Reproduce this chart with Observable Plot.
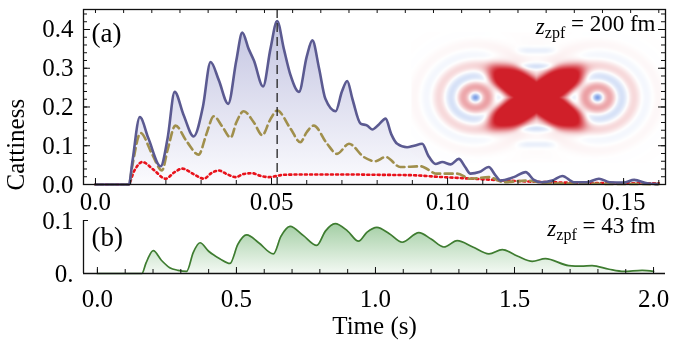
<!DOCTYPE html>
<html><head><meta charset="utf-8">
<script src="https://cdn.jsdelivr.net/npm/d3@7"></script>
<script src="https://cdn.jsdelivr.net/npm/@observablehq/plot@0.6"></script>
<style>
body{margin:0;background:#fff;}
#wrap{position:relative;width:683px;height:349px;overflow:hidden;font-family:"Liberation Serif",serif;color:#000;}
#wrap svg{position:absolute;left:0;overflow:visible;}
</style></head><body><div id="wrap"></div>
<script>
// ---------- data: panel (a), z_zpf = 200 fm ----------
const solidT = [0,0.0095,0.0105,0.0126,0.015,0.0185,0.0205,0.0225,0.025,0.0279,0.0305,0.0327,0.035,0.0377,0.04,0.0417,0.0435,0.045,0.0476,0.0497,0.0516,0.0535,0.0554,0.0578,0.06,0.0616,0.0635,0.0653,0.0682,0.07,0.0715,0.073,0.0753,0.0772,0.0786,0.0805,0.0824,0.084,0.0857,0.0885,0.0905,0.0928,0.0945,0.0966,0.0985,0.1009,0.1032,0.105,0.1065,0.109,0.1117,0.1135,0.115,0.1188,0.1222,0.1245,0.1265,0.1297,0.1326,0.1359,0.1395,0.143,0.146,0.150,0.153,0.1567,0.1596];
const solidV = [0,0,0.06,0.174,0.12,0.047,0.12,0.239,0.18,0.124,0.2,0.316,0.27,0.208,0.32,0.392,0.35,0.32,0.253,0.35,0.422,0.35,0.282,0.239,0.33,0.372,0.3,0.221,0.189,0.24,0.267,0.22,0.157,0.152,0.142,0.155,0.17,0.13,0.105,0.096,0.1,0.105,0.075,0.053,0.058,0.052,0.066,0.045,0.028,0.032,0.045,0.025,0.010,0.019,0.032,0.012,0.006,0.010,0.022,0.006,0.006,0.015,0.006,0.005,0.012,0.003,0.001];
const dashT = [0,0.0095,0.0105,0.0128,0.016,0.0189,0.0205,0.0227,0.026,0.0293,0.0315,0.0336,0.036,0.0384,0.04,0.0421,0.045,0.0474,0.0495,0.0516,0.0554,0.0582,0.06,0.062,0.0658,0.0686,0.072,0.0762,0.0795,0.0824,0.0866,0.0923,0.097,0.1027,0.1065,0.1117,0.116,0.1226,0.1283,0.14,0.16];
const dashV = [0,0,0.05,0.133,0.08,0.036,0.09,0.152,0.11,0.077,0.13,0.176,0.15,0.121,0.16,0.189,0.16,0.127,0.165,0.191,0.144,0.109,0.135,0.152,0.105,0.079,0.105,0.071,0.06,0.071,0.045,0.047,0.028,0.028,0.015,0.019,0.006,0.01,0.003,0.002,0.001];
const dotT = [0,0.0093,0.011,0.0133,0.0165,0.0199,0.0225,0.0246,0.028,0.0308,0.033,0.035,0.0375,0.0398,0.042,0.0445,0.047,0.0492,0.0535,0.06,0.07,0.08,0.09,0.097,0.105,0.115,0.125,0.14,0.16];
const dotV = [0,0,0.035,0.058,0.038,0.015,0.032,0.041,0.026,0.015,0.03,0.036,0.026,0.019,0.027,0.029,0.022,0.019,0.025,0.026,0.026,0.025,0.024,0.02,0.016,0.011,0.007,0.004,0.003];
const markerT = [0.0516];
// ---------- data: panel (b), z_zpf = 43 fm ----------
const greenT = [0,0.16,0.175,0.201,0.23,0.26,0.29,0.321,0.345,0.369,0.40,0.44,0.477,0.505,0.537,0.58,0.633,0.66,0.693,0.74,0.789,0.82,0.855,0.90,0.939,0.97,1.005,1.05,1.096,1.156,1.2,1.246,1.294,1.35,1.408,1.456,1.51,1.564,1.611,1.695,1.74,1.779,1.84,1.893,1.959,2.0];
const greenV = [0,0,0.02,0.043,0.025,0.011,0.006,0.004,0.04,0.058,0.042,0.028,0.019,0.055,0.073,0.058,0.037,0.07,0.089,0.072,0.053,0.08,0.094,0.08,0.061,0.078,0.087,0.075,0.059,0.077,0.065,0.05,0.062,0.05,0.037,0.045,0.033,0.023,0.028,0.015,0.014,0.015,0.008,0.004,0.006,0.004];
// ---------- tick labels & texts ----------
const aTickX = [0, 0.05, 0.10, 0.15];
const aTickY = [0, 0.1, 0.2, 0.3, 0.4];
const bTickX = [0, 0.5, 1.0, 1.5, 2.0];
const bTickY = [0, 0.1];
const yLabel = "Cattiness";
const xLabel = "Time (s)";
const panelA = "(a)", panelB = "(b)";
const annA = ["z", "zpf", " = 200 fm"];
const annB = ["z", "zpf", " = 43 fm"];

const zip = (T, V) => T.map((t, i) => ({t, v: V[i]}));
const solid = zip(solidT, solidV), dashed = zip(dashT, dashV), dotted = zip(dotT, dotV), green = zip(greenT, greenV);

const NS = "http://www.w3.org/2000/svg";
function gradient(id, stops) {
  return () => {
    const defs = document.createElementNS(NS, "defs");
    const lg = document.createElementNS(NS, "linearGradient");
    lg.setAttribute("id", id);
    lg.setAttribute("x1", "0"); lg.setAttribute("y1", "0"); lg.setAttribute("x2", "0"); lg.setAttribute("y2", "1");
    for (const [o, c] of stops) {
      const s = document.createElementNS(NS, "stop");
      s.setAttribute("offset", o); s.setAttribute("stop-color", c);
      lg.appendChild(s);
    }
    defs.appendChild(lg);
    return defs;
  };
}
function subscriptify(svg, parts, subSize) {
  const full = parts.join("");
  svg.querySelectorAll("text").forEach(t => {
    if (t.textContent === full) {
      t.textContent = "";
      const a = document.createElementNS(NS, "tspan"); a.textContent = parts[0]; a.setAttribute("font-style", "italic");
      const b = document.createElementNS(NS, "tspan"); b.textContent = parts[1]; b.setAttribute("font-size", subSize); b.setAttribute("dy", "0.3em");
      const c = document.createElementNS(NS, "tspan"); c.textContent = parts[2]; c.setAttribute("dy", "-0.3em");
      t.append(a, b, c);
    }
  });
}

const W = 683, ML = 83, MR = 18;
const PW = W - ML - MR;
const FONT = "Liberation Serif";
const ink = "#111";
const CURVE = "monotone-x";

// ---------- panel (a) ----------
const aH = 212, aMT = 9, aMB = 28, aPH = aH - aMT - aMB;
const aXdom = [-0.0034, 0.1619];
const aMinorX = d3.range(0, 0.1605, 0.01);
const aTopX = d3.range(0, 0.1605, 0.008);
const aMinorY = d3.range(0, 0.4501, 0.02);

const plotA = Plot.plot({
  width: W, height: aH, marginLeft: ML, marginRight: MR, marginTop: aMT, marginBottom: aMB,
  x: {domain: aXdom, label: null},
  y: {domain: [0, 0.4516], label: null},
  style: {fontFamily: FONT, fontSize: "25px", background: "transparent", overflow: "visible"},
  marks: [
    gradient("gradA", [["0", "#c3c4e1"], ["1", "#fbfbfe"]]),
    Plot.areaY(solid, {x: "t", y: "v", fill: "url(#gradA)", curve: CURVE}),
    Plot.lineY(dotted, {x: "t", y: "v", stroke: "#e8121b", strokeWidth: 2.6, strokeDasharray: "2,3.2", curve: CURVE}),
    Plot.lineY(dashed, {x: "t", y: "v", stroke: "#a08f4c", strokeWidth: 2.6, strokeDasharray: "8,4.5", curve: CURVE}),
    Plot.lineY(solid, {x: "t", y: "v", stroke: "#5b5a91", strokeWidth: 2.6, curve: CURVE}),
    Plot.ruleX(markerT, {x: d => d, stroke: "#222", strokeWidth: 1.3, strokeDasharray: "9,5"}),
    // inward ticks
    Plot.ruleX(aMinorX, {x: d => d, stroke: ink, insetTop: aPH - 4}),
    Plot.ruleX(aTickX, {x: d => d, stroke: ink, insetTop: aPH - 6}),
    Plot.ruleX(aTopX, {x: d => d, stroke: ink, insetBottom: aPH - 4}),
    Plot.ruleY(aMinorY, {y: d => d, stroke: ink, insetRight: PW - 4}),
    Plot.ruleY(aTickY, {y: d => d, stroke: ink, insetRight: PW - 7}),
    Plot.ruleY(aMinorY, {y: d => d, stroke: ink, insetLeft: PW - 4}),
    Plot.ruleY(aTickY, {y: d => d, stroke: ink, insetLeft: PW - 7}),
    Plot.frame({stroke: ink, strokeWidth: 1.3}),
    Plot.axisX({ticks: aTickX, tickFormat: d => d === 0 ? "0.0" : d.toFixed(2), tickSize: 0, tickPadding: 8, label: null, fontSize: 25}),
    Plot.axisY({ticks: aTickY, tickFormat: d3.format(".1f"), tickSize: 0, tickPadding: 10, label: null, fontSize: 25}),
    Plot.text([panelA], {text: d => d, frameAnchor: "top-left", textAnchor: "start", lineAnchor: "middle", dx: 8, dy: 24, fontSize: 27}),
    Plot.text([annA.join("")], {text: d => d, frameAnchor: "top-right", textAnchor: "end", lineAnchor: "bottom", dx: -10, dy: 24, fontSize: 23}),
    Plot.text([yLabel], {text: d => d, frameAnchor: "bottom-left", rotate: -90, dx: -60, dy: 6, fontSize: 25})
  ]
});
plotA.style.top = "0px";
subscriptify(plotA, annA, "16px");

// ---------- panel (b) ----------
const bTop = 200, bH = 149, bMT = 20, bMB = 76, bPH = bH - bMT - bMB;
const bXdom = [-0.05, 2.043];
const bMinorX = d3.range(0, 2.0001, 0.1);

const plotB = Plot.plot({
  width: W, height: bH, marginLeft: ML, marginRight: MR, marginTop: bMT, marginBottom: bMB,
  x: {domain: bXdom, label: null},
  y: {domain: [0, 0.1], label: null},
  style: {fontFamily: FONT, fontSize: "25px", background: "transparent", overflow: "visible"},
  marks: [
    gradient("gradB", [["0", "#a3cea4"], ["1", "#f3f9f3"]]),
    Plot.areaY(green, {x: "t", y: "v", fill: "url(#gradB)", curve: CURVE}),
    Plot.lineY(green, {x: "t", y: "v", stroke: "#3e7c30", strokeWidth: 1.7, curve: CURVE}),
    Plot.ruleX(bMinorX, {x: d => d, stroke: ink, insetTop: bPH - 4}),
    Plot.ruleX(bTickX, {x: d => d, stroke: ink, insetTop: bPH - 6}),
    Plot.ruleY(bTickY, {y: d => d, stroke: ink, insetRight: PW - 5}),
    Plot.ruleY([0], {stroke: ink, strokeWidth: 1.3}),
    Plot.ruleX([bXdom[0]], {y1: 0, y2: 0.1, stroke: ink, strokeWidth: 1.3}),
    Plot.axisX({ticks: bTickX, tickFormat: d3.format(".1f"), tickSize: 0, tickPadding: 16, label: null, fontSize: 25}),
    Plot.axisY({ticks: bTickY, tickFormat: d => d === 0 ? "0." : "0.1", tickSize: 0, tickPadding: 10, label: null, fontSize: 25}),
    Plot.text([panelB], {text: d => d, frameAnchor: "top-left", textAnchor: "start", lineAnchor: "middle", dx: 8, dy: 17, fontSize: 27}),
    Plot.text([annB.join("")], {text: d => d, frameAnchor: "top-right", textAnchor: "end", lineAnchor: "bottom", dx: -10, dy: 15, fontSize: 23}),
    Plot.text([xLabel], {text: d => d, frameAnchor: "bottom", dy: 60, fontSize: 25})
  ]
});
plotB.style.top = bTop + "px";
subscriptify(plotB, annB, "16px");

// ---------- Wigner-function inset (image) ----------
const sig = z => 1 / (1 + Math.exp(-z));
function wigner(dx, dy) {
  const adx = Math.abs(dx), ady = Math.abs(dy);
  const b1 = sig((18 - Math.abs(dy - 0.7 * dx)) / 2.5), b2 = sig((18 - Math.abs(dy + 0.7 * dx)) / 2.5);
  const X = Math.max(b1, b2) * sig((47 - adx) / 3.5) * sig((32 - ady) / 3);
  let L = 0;
  for (const s of [-1, 1]) {
    const r = Math.hypot(dx - s * 61, dy * 1.15);
    L += -Math.cos(2 * Math.PI * r / 25) * (0.3 + 0.3 * Math.exp(-((r / 6) ** 2))) * Math.exp(-((r / 38) ** 2));
  }
  const C = -0.22 * Math.exp(-((dx / 18) ** 4)) * (Math.exp(-(((ady - 31) / 3.5) ** 2)) + 0.5 * Math.exp(-(((ady - 47) / 3.5) ** 2)));
  const H = 0.1 * Math.exp(-((dx / 75) ** 2) - ((dy / 38) ** 2));
  return X + (1 - X) * (L + C + H);
}
const plotC = Plot.plot({
  width: 250, height: 130, margin: 0,
  x: {domain: [-125, 125], axis: null},
  y: {domain: [-65, 65], axis: null},
  color: {type: "linear", domain: [-0.75, 0, 0.8], range: ["#4a7bdc", "#ffffff", "#d01f29"], clamp: true},
  style: {background: "transparent"},
  marks: [Plot.raster({fill: wigner, x1: -125, x2: 125, y1: -65, y2: 65, pixelSize: 1, imageRendering: "auto"})]
});
plotC.style.left = "411px";
plotC.style.top = "32px";
plotC.style.mixBlendMode = "multiply";

const wrap = document.getElementById("wrap");
wrap.append(plotA, plotB, plotC);
</script>
</body></html>
